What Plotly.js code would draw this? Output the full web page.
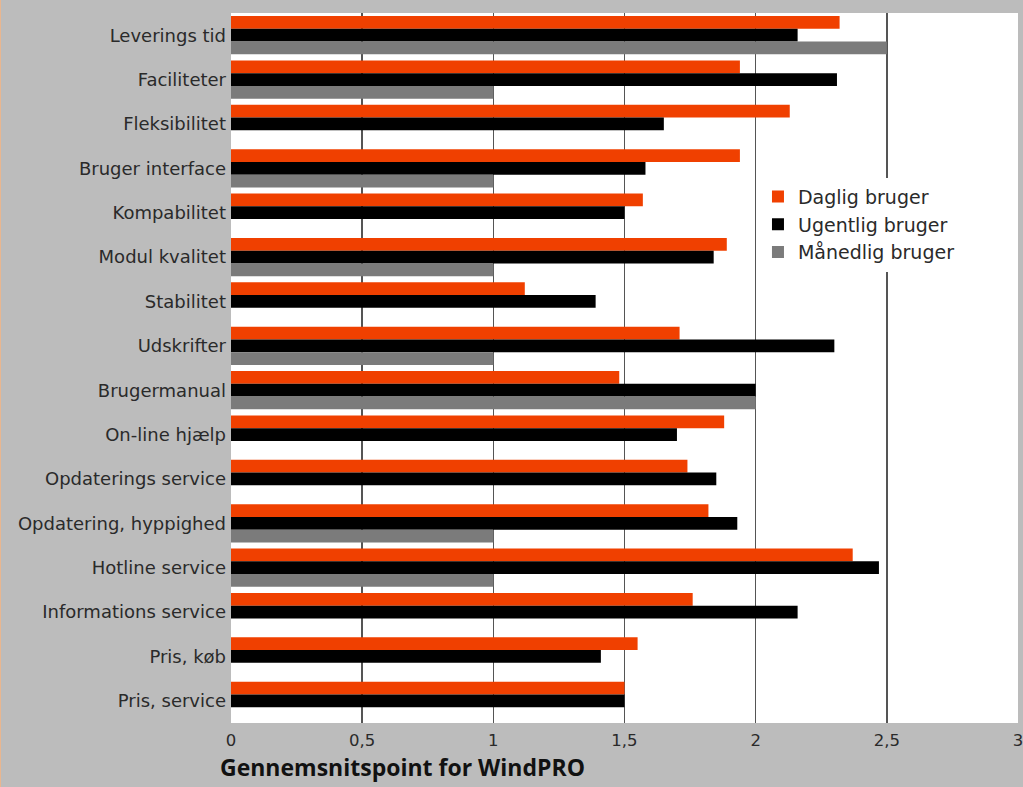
<!DOCTYPE html>
<html>
<head>
<meta charset="utf-8">
<script src="https://cdn.plot.ly/plotly-3.0.1.min.js"></script>
<style>
  html, body { margin: 0; padding: 0; background: #bcbcbc; }
  #chart { width: 1023px; height: 787px; position: relative; }
  #edge { position: absolute; left: 0; top: 0; width: 1px; height: 787px; background: #e8b690; z-index: 10; }
</style>
</head>
<body>
<div id="edge"></div>
<div id="chart"></div>
<script>
const categories = [
  "Leverings tid", "Faciliteter", "Fleksibilitet", "Bruger interface",
  "Kompabilitet", "Modul kvalitet", "Stabilitet", "Udskrifter",
  "Brugermanual", "On-line hjælp", "Opdaterings service",
  "Opdatering, hyppighed", "Hotline service", "Informations service",
  "Pris, køb", "Pris, service"
];
const seriesNames = ["Daglig bruger", "Ugentlig bruger", "Månedlig bruger"];
const dagligValues   = [2.32, 1.94, 2.13, 1.94, 1.57, 1.89, 1.12, 1.71, 1.48, 1.88, 1.74, 1.82, 2.37, 1.76, 1.55, 1.50];
const ugentligValues = [2.16, 2.31, 1.65, 1.58, 1.50, 1.84, 1.39, 2.30, 2.00, 1.70, 1.85, 1.93, 2.47, 2.16, 1.41, 1.50];
const maanedligValues= [2.50, 1.00, null, 1.00, null, 1.00, null, 1.00, 2.00, null, null, 1.00, 1.00, null, null, null];
const xTickValues = [0, 0.5, 1, 1.5, 2, 2.5, 3];
const xTickLabels = ["0", "0,5", "1", "1,5", "2", "2,5", "3"];
const xAxisTitle = "Gennemsnitspoint for WindPRO";

const colors = ["#f04000", "#000000", "#7b7b7b"];
const allValues = [dagligValues, ugentligValues, maanedligValues];

const traces = allValues.map((vals, i) => ({
  type: "bar",
  orientation: "h",
  name: seriesNames[i],
  x: vals,
  y: categories,
  marker: { color: colors[i], line: { width: 0 } },
  legendgroup: "g" + i,
  hoverinfo: "x+y+name"
}));

const layout = {
  width: 1023,
  height: 787,
  margin: { l: 231, r: 5, t: 13, b: 64, pad: 0 },
  paper_bgcolor: "#bcbcbc",
  plot_bgcolor: "#ffffff",
  separators: ",.",
  barmode: "group",
  bargap: 0.14,
  bargroupgap: 0,
  font: { family: "DejaVu Sans, sans-serif", size: 16, color: "#2a2a2a" },
  xaxis: {
    range: [0, 3.0001],
    tickvals: xTickValues,
    ticktext: xTickLabels,
    ticklabeloverflow: "allow",
    ticklabelshift: -1.5,
    showgrid: true,
    gridcolor: "#555555",
    gridwidth: 1.5,
    zeroline: false,
    showline: false,
    ticks: "",
    ticklabelstandoff: 5,
    tickfont: { family: "DejaVu Sans, sans-serif", size: 16.5, color: "#2a2a2a" },
    fixedrange: true
  },
  yaxis: {
    type: "category",
    autorange: "reversed",
    showgrid: false,
    zeroline: false,
    showline: false,
    ticks: "",
    ticklabelstandoff: 4,
    tickfont: { family: "DejaVu Sans, sans-serif", size: 18, color: "#2a2a2a" },
    fixedrange: true
  },
  showlegend: true,
  legend: {
    x: 0.6696,
    y: 0.768,
    xanchor: "left",
    yanchor: "top",
    bgcolor: "#ffffff",
    borderwidth: 0,
    traceorder: "normal",
    tracegroupgap: 9,
    itemwidth: 30,
    font: { family: "DejaVu Sans, sans-serif", size: 19, color: "#2a2a2a" }
  },
  annotations: [{
    text: "<b>" + xAxisTitle + "</b>",
    xref: "paper", yref: "paper",
    x: -0.0165, y: -0.0873,
    xanchor: "left", yanchor: "bottom",
    showarrow: false,
    font: { family: "Open Sans, sans-serif", size: 23, color: "#111111" }
  }]
};

Plotly.newPlot("chart", traces, layout, { displayModeBar: false, staticPlot: true });
</script>
</body>
</html>
